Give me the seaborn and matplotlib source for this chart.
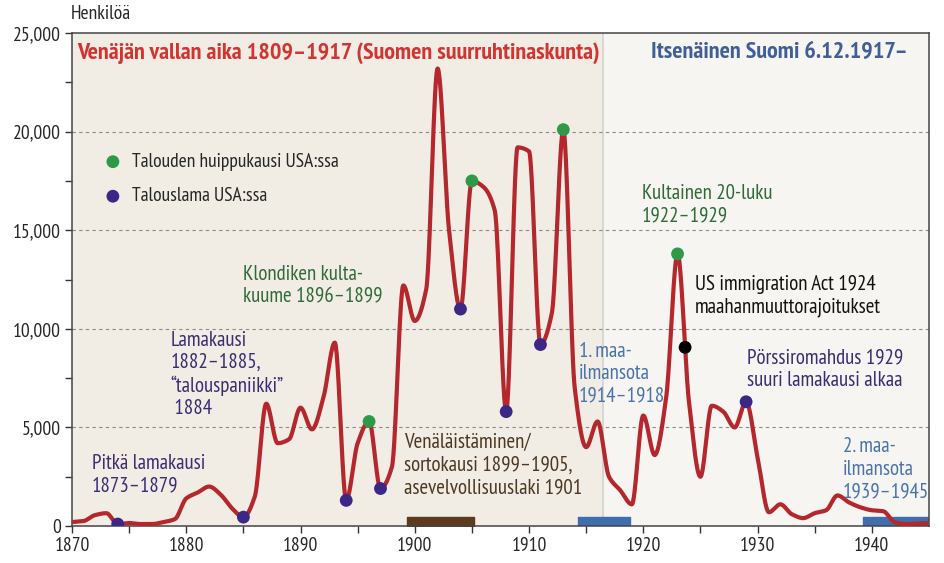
import numpy as np
import pandas as pd
import matplotlib
matplotlib.use("Agg")
import matplotlib.pyplot as plt
import seaborn as sns

# Siirtolaiset Suomesta Yhdysvaltoihin vuosittain (luettu kuvasta)
years = list(range(1870, 1946))
emigrants = [200, 250, 550, 650, 100, 150, 100, 100, 200, 350,
             1400, 1700, 2000, 1600, 900, 450, 1500, 6200, 4200, 4400,
             6000, 4900, 6500, 9300, 1300, 4200, 5300, 1900, 3000, 12200,
             10400, 12000, 23200, 15000, 11000, 17500, 17200, 16000, 5800, 19200,
             19000, 9200, 10800, 20100, 7000, 4000, 5300, 2500, 1800, 1100,
             5600, 3600, 6500, 13800, 6300, 2500, 6100, 5800, 5000, 6300,
             3500, 700, 1100, 600, 400, 650, 800, 1550, 1200, 950,
             800, 750, 200, 100, 130, 150]

peak_years = [1896, 1905, 1913, 1923]          # talouden huippukausi USA:ssa
slump_years = [1874, 1885, 1894, 1897, 1904, 1908, 1911, 1929]  # talouslama
act_year = 1923.66                               # US immigration Act 1924

# aikajaksot alareunassa
russification = (1899.3, 1905.2)
ww1 = (1914.3, 1918.8)
ww2 = (1939.2, 1945.0)
independence = 1916.5


def pchip(x, y, n=30):
    # monotoninen kuutiollinen Hermite-kaari (Fritsch-Carlson)
    x = np.asarray(x, float)
    y = np.asarray(y, float)
    h = np.diff(x)
    d = np.diff(y) / h
    m = np.zeros_like(y)
    m[0], m[-1] = d[0], d[-1]
    for k in range(1, len(y) - 1):
        if d[k - 1] * d[k] > 0:
            w1 = 2 * h[k] + h[k - 1]
            w2 = h[k] + 2 * h[k - 1]
            m[k] = (w1 + w2) / (w1 / d[k - 1] + w2 / d[k])
    xs, ys = [], []
    for i in range(len(x) - 1):
        t = np.linspace(0, 1, n, endpoint=False)
        h00 = 2 * t ** 3 - 3 * t ** 2 + 1
        h10 = t ** 3 - 2 * t ** 2 + t
        h01 = -2 * t ** 3 + 3 * t ** 2
        h11 = t ** 3 - t ** 2
        ys.append(h00 * y[i] + h10 * h[i] * m[i] + h01 * y[i + 1] + h11 * h[i] * m[i + 1])
        xs.append(x[i] + t * h[i])
    xs.append([x[-1]])
    ys.append([y[-1]])
    return np.concatenate(xs), np.concatenate(ys)


df = pd.DataFrame({"vuosi": years, "henkiloa": emigrants})
sx, sy = pchip(df["vuosi"], df["henkiloa"])
curve = pd.DataFrame({"vuosi": sx, "henkiloa": sy})
lookup = df.set_index("vuosi")["henkiloa"]
peaks = pd.DataFrame({"vuosi": peak_years, "henkiloa": lookup[peak_years].values})
slumps = pd.DataFrame({"vuosi": slump_years, "henkiloa": lookup[slump_years].values})
act_value = np.interp(act_year, sx, sy)

sns.set_theme(style="ticks")
FONT = ["PT Sans Narrow", "DejaVu Sans"]
plt.rcParams["font.family"] = FONT

fig = plt.figure(figsize=(9.44, 5.63), dpi=100)
ax = fig.add_axes([0.0763, 0.0657, 0.9077, 0.8757])

ax.axvspan(1870, independence, color="#f1ede4", zorder=0, lw=0)
ax.axvspan(independence, 1945, color="#f6f5f1", zorder=0, lw=0)
ax.axvline(independence, color="#d2d2cf", lw=1.2, zorder=1)
for yv in [5000, 10000, 15000, 20000]:
    ax.axhline(yv, color="#8a8a8a", lw=0.8, ls=(0, (3, 3)), zorder=1)

ax.broken_barh([(russification[0], russification[1] - russification[0])],
               (0, 480), color="#5b3a1e", zorder=2)
ax.broken_barh([(ww1[0], ww1[1] - ww1[0]), (ww2[0], ww2[1] - ww2[0])],
               (0, 480), color="#3f6eae", zorder=2)

sns.lineplot(data=curve, x="vuosi", y="henkiloa", color="#b3272d",
             lw=3.0, ax=ax, zorder=3, sort=False)
sns.scatterplot(data=peaks, x="vuosi", y="henkiloa", color="#2e9a48", s=85,
                edgecolor="none", ax=ax, zorder=4,
                label="Talouden huippukausi USA:ssa")
sns.scatterplot(data=slumps, x="vuosi", y="henkiloa", color="#3b2785", s=85,
                edgecolor="none", ax=ax, zorder=4, label="Talouslama USA:ssa")
ax.scatter([act_year], [act_value], color="black", s=85, edgecolor="none",
           zorder=4)

leg = ax.legend(loc="upper left", bbox_to_anchor=(0.025, 0.757), frameon=False,
                fontsize=14, handletextpad=0.0, labelspacing=0.85,
                borderaxespad=0, borderpad=0)

ax.set_xlim(1870, 1945)
ax.set_ylim(0, 25000)
ax.set_xlabel("")
ax.set_ylabel("")
ax.set_xticks(range(1870, 1950, 10))
ax.set_xticks(range(1875, 1945, 10), minor=True)
ax.set_yticks(range(0, 25001, 5000))
ax.set_yticks(range(2500, 25000, 5000), minor=True)
ax.set_yticklabels([f"{v:,}" for v in range(0, 25001, 5000)])
ax.tick_params(axis="both", which="both", direction="out", color="#333333",
               labelsize=14, length=5, width=1, pad=3)
for side in ["left", "right", "top", "bottom"]:
    ax.spines[side].set_visible(True)
    ax.spines[side].set_color("#444444")
    ax.spines[side].set_linewidth(1.1)

ax.text(1869.9, 25500, "Henkilöä", fontsize=14, ha="left", va="bottom")

ax.text(1870.5, 24000, "Venäjän vallan aika 1809–1917 (Suomen suurruhtinaskunta)",
        color="#d03532", fontsize=17.4, fontweight="bold", va="center")
ax.text(1920.7, 24000, "Itsenäinen Suomi 6.12.1917–", color="#3f5f96",
        fontsize=17.4, fontweight="bold", va="center")

green_txt = "#2f6b38"
purple_txt = "#3a2d74"
blue_txt = "#4a73ac"
notes = [
    (1885.0, 13250, "Klondiken kulta-\nkuume 1896–1899", green_txt),
    (1878.6, 9900, "Lamakausi\n1882–1885,\n“talouspaniikki”\n 1884", purple_txt),
    (1871.75, 3650, "Pitkä lamakausi\n1873–1879", purple_txt),
    (1899.05, 4700, "Venäläistäminen/\nsortokausi 1899–1905,\nasevelvollisuuslaki 1901", "#4b3822"),
    (1914.35, 9350, "1. maa-\nilmansota\n1914–1918", blue_txt),
    (1919.9, 17350, "Kultainen 20-luku\n1922–1929", green_txt),
    (1924.5, 12750, "US immigration Act 1924\nmaahanmuuttorajoitukset", "#111111"),
    (1929.1, 9000, "Pörssiromahdus 1929\nsuuri lamakausi alkaa", purple_txt),
    (1937.45, 4500, "2. maa-\nilmansota\n1939–1945", blue_txt),
]
for x, y, s, c in notes:
    ax.text(x, y, s, color=c, fontsize=15, ha="left", va="top", linespacing=1.22,
            zorder=5)

fig.savefig("out.png", dpi=100)
